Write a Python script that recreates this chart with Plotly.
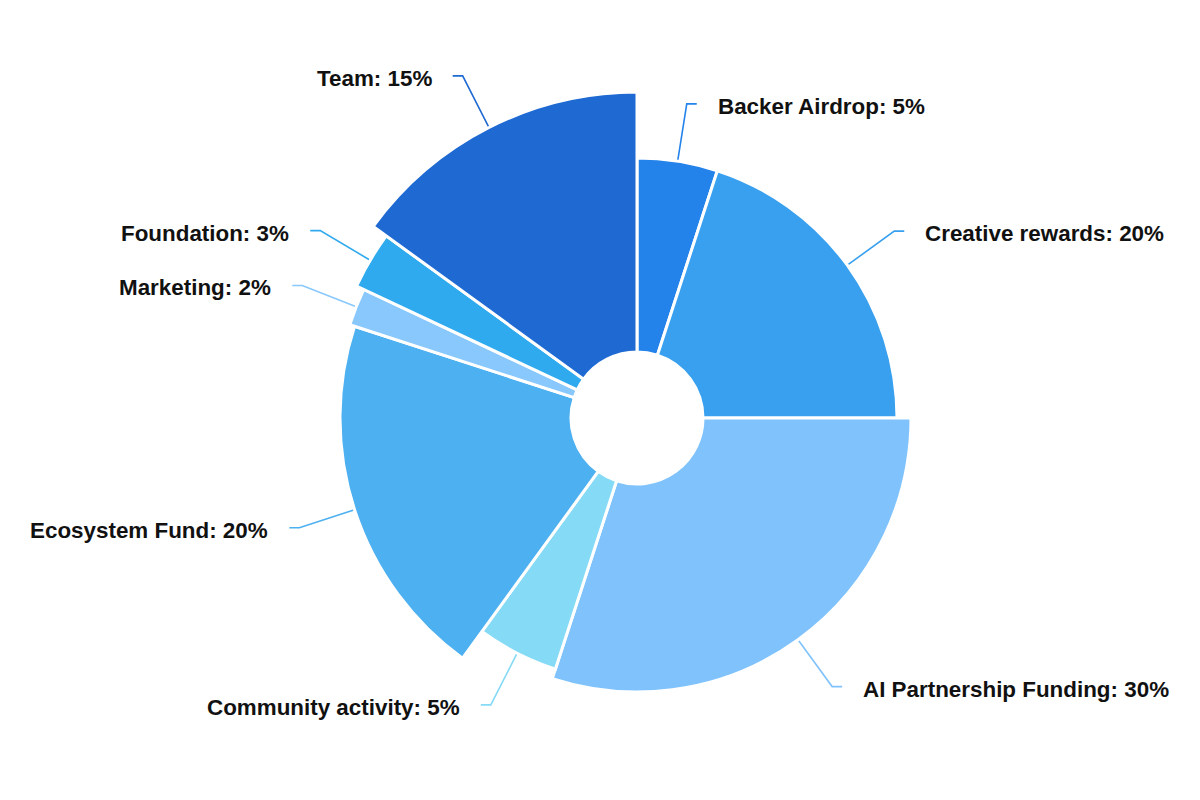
import math
import plotly.graph_objects as go

# ---- data ----
labels = ["Backer Airdrop", "Creative rewards", "AI Partnership Funding",
          "Community activity", "Ecosystem Fund", "Marketing", "Foundation", "Team"]
shares = [5, 20, 30, 5, 20, 2, 3, 15]            # percent (slice angle)
outer_radius = [260, 260, 274, 264, 297, 302, 310, 326]  # rose radius per slice
colors = ["#2383EA", "#38A0EE", "#80C3FC", "#85DAF6",
          "#4DB0F0", "#88C8FC", "#30AAEE", "#1E6AD2"]

# ---- geometry (pixel based) ----
W, H = 1200, 800
CX, CY = 637, 418
R = 340
INNER = 66
LEN1, LEN2, GAP = 58, 10, 20

total = sum(shares)
widths = [s / total * 360 for s in shares]
mids, acc = [], 0.0
for w in widths:
    mids.append(acc + w / 2)
    acc += w

fig = go.Figure()
fig.add_trace(go.Barpolar(
    theta=mids, width=widths,
    base=[INNER] * len(labels),
    r=[o - INNER for o in outer_radius],
    marker=dict(color=colors, line=dict(color="white", width=3)),
    hoverinfo="skip", showlegend=False,
))

annotations = []
for lab, s, o, m, c in zip(labels, shares, outer_radius, mids, colors):
    a = math.radians(m)
    sx, sy = CX + o * math.sin(a), CY - o * math.cos(a)
    ex, ey = CX + (o + LEN1) * math.sin(a), CY - (o + LEN1) * math.cos(a)
    right = math.sin(a) >= 0
    hx = ex + (LEN2 if right else -LEN2)
    fig.add_trace(go.Scatter(
        x=[sx, ex, hx], y=[sy, ey, ey], mode="lines",
        line=dict(color=c, width=1.6), hoverinfo="skip", showlegend=False,
        xaxis="x", yaxis="y",
    ))
    annotations.append(dict(
        x=hx + (GAP if right else -GAP), y=ey + 2.5, xref="x", yref="y",
        text=f"<b>{lab}: {s}%</b>", showarrow=False,
        xanchor="left" if right else "right", yanchor="middle",
        font=dict(family="Liberation Sans, Arial, sans-serif", size=22.4, color="#111111"),
        borderpad=0,
    ))

fig.update_layout(
    width=W, height=H,
    margin=dict(l=0, r=0, t=0, b=0),
    paper_bgcolor="white", plot_bgcolor="rgba(0,0,0,0)",
    polar=dict(
        domain=dict(x=[(CX - R) / W, (CX + R) / W],
                    y=[1 - (CY + R) / H, 1 - (CY - R) / H]),
        bgcolor="rgba(0,0,0,0)",
        radialaxis=dict(range=[0, R], visible=False, showgrid=False),
        angularaxis=dict(rotation=90, direction="clockwise", visible=False,
                         showgrid=False),
        bargap=0,
    ),
    xaxis=dict(range=[0, W], domain=[0, 1], visible=False, fixedrange=True),
    yaxis=dict(range=[H, 0], domain=[0, 1], visible=False, fixedrange=True),
    annotations=annotations,
)

fig.write_html("out.html")
